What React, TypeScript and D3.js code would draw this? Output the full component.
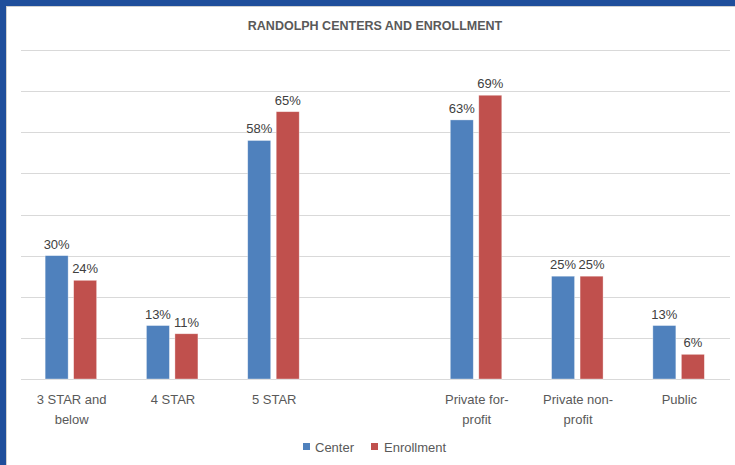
import React from "react";
import * as d3 from "d3";

const categories: string[][] = [
  ["3 STAR and", "below"],
  ["4 STAR"],
  ["5 STAR"],
  [],
  ["Private for-", "profit"],
  ["Private non-", "profit"],
  ["Public"],
];
const centerValues: (number | null)[] = [0.3, 0.13, 0.58, null, 0.63, 0.25, 0.13];
const enrollmentValues: (number | null)[] = [0.24, 0.11, 0.65, null, 0.69, 0.25, 0.06];
const yTicks = [0, 0.1, 0.2, 0.3, 0.4, 0.5, 0.6, 0.7, 0.8];
const seriesNames = ["Center", "Enrollment"];

const W = 735;
const H = 465;
const BLUE = "#4F81BD";
const RED = "#C0504D";
const FONT = "'Liberation Sans', Arial, sans-serif";

export default function App() {
  const x = d3
    .scaleBand<number>()
    .domain(categories.map((_, i) => i))
    .range([21, 730])
    .padding(0);
  const y = d3.scaleLinear().domain([0, 0.8]).range([379, 50]);
  const bw = 23;

  const bars: { v: number; x: number; color: string }[] = [];
  categories.forEach((_, i) => {
    const c = (x(i) ?? 0) + x.bandwidth() / 2;
    const a = centerValues[i];
    const b = enrollmentValues[i];
    if (a != null) bars.push({ v: a, x: c - 26.5, color: BLUE });
    if (b != null) bars.push({ v: b, x: c + 2, color: RED });
  });

  return (
    <svg
      width={W}
      height={H}
      style={{ position: "absolute", left: 0, top: 0, background: "#fff" }}
      fontFamily={FONT}
    >
      <rect x={0} y={0} width={W} height={H} fill="#fff" />
      <rect x={0} y={0} width={W} height={6} fill="#1F4E9B" />
      <rect x={0} y={0} width={6} height={H} fill="#1F4E9B" />
      <line x1={6} x2={W} y1={6.5} y2={6.5} stroke="#d0d0d0" />
      <line x1={6.5} x2={6.5} y1={6} y2={H} stroke="#d0d0d0" />

      <text
        x={375}
        y={30}
        textAnchor="middle"
        fontSize={12.5}
        fontWeight="bold"
        fill="#595959"
      >
        RANDOLPH CENTERS AND ENROLLMENT
      </text>

      {yTicks.map((t) => (
        <line
          key={t}
          x1={21}
          x2={730}
          y1={Math.round(y(t)) + 0.5}
          y2={Math.round(y(t)) + 0.5}
          stroke="#D9D9D9"
          strokeWidth={1}
        />
      ))}

      {bars.map((b, i) => (
        <g key={i}>
          <rect
            x={b.x}
            y={y(b.v)}
            width={bw}
            height={y(0) - y(b.v)}
            fill={b.color}
            stroke="#fff"
            strokeOpacity={0.5}
            strokeWidth={0.7}
          />
          <text
            x={b.x + bw / 2}
            y={y(b.v) - 7}
            textAnchor="middle"
            fontSize={13}
            fill="#404040"
          >
            {Math.round(b.v * 100) + "%"}
          </text>
        </g>
      ))}

      {categories.map((lines, i) => {
        const c = (x(i) ?? 0) + x.bandwidth() / 2;
        return lines.map((ln, j) => (
          <text
            key={i + "-" + j}
            x={c}
            y={404 + j * 20}
            textAnchor="middle"
            fontSize={13}
            fill="#595959"
          >
            {ln}
          </text>
        ));
      })}

      <g>
        <rect x={303} y={443} width={7} height={7} fill={BLUE} />
        <text x={315} y={452} fontSize={13} fill="#595959">
          {seriesNames[0]}
        </text>
        <rect x={371} y={443} width={7} height={7} fill={RED} />
        <text x={384} y={452} fontSize={13} fill="#595959">
          {seriesNames[1]}
        </text>
      </g>
    </svg>
  );
}
